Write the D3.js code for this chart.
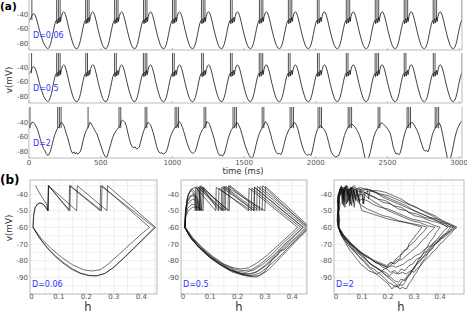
<!DOCTYPE html>
<html>
<head>
<meta charset="utf-8">
<script src="https://cdnjs.cloudflare.com/ajax/libs/d3/7.8.5/d3.min.js"></script>
<style>
  body { margin: 0; background: #fff; }
  svg { display: block; font-family: "DejaVu Sans", sans-serif; }
  .frame { fill: none; stroke: #a8a8a8; stroke-width: 0.8; }
  .grid line { stroke: #e6e6e6; stroke-width: 0.6; }
  .tick { fill: #555; font-size: 7px; }
  .trace { fill: none; stroke: #111; stroke-width: 0.8; stroke-linejoin: round; }
  .spike { stroke: #222; stroke-width: 0.8; }
  .orbit { fill: none; stroke: #111; stroke-width: 0.6; stroke-linejoin: round; }
  .dlab { fill: #3232ff; font-size: 8px; }
  .panel { font-weight: bold; font-size: 12px; fill: #000; }
</style>
</head>
<body>
<svg id="fig" width="467" height="313"></svg>
<script>
// ---------- panel (a) data ----------
var timeTicks = [0, 500, 1000, 1500, 2000, 2500, 3000];
var vTicksA = [-40, -60, -80];
var noiseLabels = ["D=0.06", "D=0.5", "D=2"];

// first 130 ms of the low-noise traces (t ms, v mV)
var leadIn = [[0,-49],[8,-47],[14,-45],[18,-43],[24,-40],[32,-39],[40,-40],[50,-45],[60,-52],
  [70,-60],[80,-67],[90,-73],[100,-79],[110,-83],[120,-86],[130,-87.5]];
// one cycle of the rhythm, ms measured from the burst onset
var cycleShape = [[-60,-87.5],[-52,-86],[-44,-82],[-36,-76],[-28,-68],[-20,-60],[-12,-53],[-5,-49],
  [0,-48],[3,-53],[7,-48],[12,-46],[15,-52],[20,-47],[24,-44],[27,-50],[33,-43],[40,-38],[48,-36.5],
  [56,-37.5],[64,-42],[72,-48],[80,-55],[88,-62],[98,-70],[108,-77],[118,-83],[128,-86.5],[141,-87.8]];
var spikeOffsets = [0, 12, 24];

var burst06 = [193, 395, 597, 799, 1001, 1203, 1405, 1607, 1809, 2011, 2213, 2415, 2617, 2819, 3021];
var nSpk06  = [3, 3, 3, 3, 3, 3, 2, 3, 3, 2, 3, 3, 3, 3, 1];
var first06 = [20];
var burst05 = [193, 396, 597, 798, 1001, 1204, 1405, 1606, 1809, 2012, 2213, 2414, 2617, 2820, 3021];
var nSpk05  = [3, 2, 2, 3, 2, 2, 2, 3, 2, 2, 2, 3, 2, 2, 1];
var first05 = [18];

// D=2 trace (t ms, v mV) and its spike times
var trace2 = [[0,-48],[5,-45],[12,-43],[20,-40],[30,-40],[40,-42],[50,-46],[60,-50],[70,-57],[80,-64],[90,-70],
  [100,-76],[110,-79],[118,-83],[126,-85],[133,-86],[140,-84],[150,-80],[160,-72],[170,-64],[180,-57],[190,-52],[197,-49],
  [205,-47],[212,-46],[220,-41],[228,-40],[236,-42],[244,-45],[252,-50],[260,-56],[268,-60],[276,-66],[284,-72],
  [292,-78],[300,-82],[308,-83],[316,-81],[324,-84],[332,-82],[340,-84],[348,-83],[356,-81],[364,-77],[372,-70],
  [380,-63],[390,-56],[400,-51],[408,-48],
  [416,-45],[424,-40],[432,-41],[440,-44],[448,-47],[456,-50],[464,-53],[474,-56],[484,-62],[494,-68],[504,-74],
  [514,-80],[522,-84],[530,-87],[537,-89],[544,-88],[552,-83],[562,-76],[572,-69],[582,-62],[594,-56],[606,-52],
  [618,-49],[626,-47],
  [636,-44],[644,-38],[652,-37],[660,-38],[670,-40],[680,-46],[690,-55],[700,-63],[710,-70],[720,-74],[730,-75],
  [740,-74],[750,-77],[760,-76],[770,-74],[780,-66],[790,-58],[800,-52],[808,-48],
  [820,-44],[828,-40],[836,-41],[846,-43],[856,-48],[866,-54],[876,-62],[886,-70],[896,-77],[906,-81],[916,-83],
  [926,-82],[936,-84],[946,-83],[956,-81],[966,-76],[976,-68],[986,-60],[996,-55],[1006,-51],[1015,-48],
  [1035,-45],[1042,-40],[1050,-39],[1060,-42],[1070,-47],[1080,-53],[1090,-60],[1100,-67],[1110,-73],[1120,-78],
  [1130,-81],[1140,-83],[1150,-82],[1160,-80],[1170,-74],[1180,-66],[1190,-59],[1200,-54],[1210,-50],[1218,-48],
  [1232,-44],[1240,-39],[1250,-40],[1260,-43],[1270,-49],[1280,-55],[1290,-62],[1300,-70],[1310,-77],[1320,-83],
  [1330,-86],[1340,-85],[1350,-87],[1360,-84],[1370,-78],[1380,-70],[1390,-62],[1400,-56],[1410,-51],[1420,-48],
  [1440,-44],[1448,-40],[1456,-41],[1466,-45],[1476,-50],[1486,-57],[1496,-64],[1506,-71],[1516,-77],[1526,-82],
  [1536,-86],[1546,-89],[1556,-90],[1564,-87],[1574,-80],[1584,-71],[1594,-63],[1604,-57],[1614,-52],[1622,-49],
  [1640,-43],[1648,-39],[1656,-40],[1666,-44],[1676,-50],[1686,-57],[1696,-65],[1706,-72],[1716,-78],[1726,-82],
  [1736,-84],[1746,-83],[1756,-85],[1766,-81],[1776,-73],[1786,-65],[1796,-58],[1806,-53],[1816,-49],
  [1840,-44],[1848,-40],[1856,-41],[1866,-44],[1876,-50],[1886,-58],[1896,-66],[1906,-73],[1916,-79],[1926,-83],
  [1936,-85],[1946,-86],[1956,-84],[1966,-86],[1976,-80],[1986,-70],[1996,-60],[2006,-53],[2013,-49],
  [2034,-45],[2042,-46],[2050,-48],[2060,-50],[2070,-54],[2080,-60],[2090,-68],[2100,-76],[2110,-82],[2120,-85],
  [2130,-87],[2140,-88],[2150,-87],[2160,-86],[2175,-78],[2190,-66],[2200,-58],[2212,-52],[2222,-48],
  [2244,-43],[2252,-42],[2262,-44],[2272,-46],[2288,-51],[2305,-58],[2323,-69],[2335,-82],[2345,-90],[2358,-93],
  [2368,-90],[2380,-82],[2393,-70],[2405,-60],[2418,-53],[2430,-49],
  [2446,-44],[2455,-41],[2465,-41],[2475,-43],[2490,-46],[2505,-50],[2519,-55],[2530,-64],[2540,-74],[2550,-80],
  [2560,-84],[2570,-83],[2580,-85],[2590,-82],[2600,-74],[2610,-64],[2620,-56],[2628,-51],[2634,-48],
  [2655,-42],[2665,-40],[2678,-41],[2690,-45],[2707,-51],[2720,-58],[2732,-66],[2742,-72],[2752,-78],[2762,-80],
  [2772,-79],[2782,-81],[2792,-76],[2802,-67],[2812,-58],[2822,-52],[2830,-49],
  [2852,-42],[2862,-41],[2872,-45],[2880,-52],[2888,-60],[2898,-70],[2908,-80],[2916,-88],[2924,-92],[2932,-93],
  [2940,-90],[2950,-82],[2960,-72],[2970,-62],[2980,-54],[2990,-48],[3000,-44],[3010,-40],[3020,-38]];
var spikes2 = [7, 200, 212, 224, 412, 628, 640, 810, 822, 1019, 1031, 1043, 1221, 1233, 1423, 1435, 1447,
  1626, 1638, 1821, 1833, 1845, 2016, 2028, 2040, 2226, 2238, 2250, 2435, 2447, 2637, 2649, 2661,
  2833, 2845, 2857];

// ---------- panel (b) data: (h, v) orbits, flat lists h,v,h,v,... ----------
var hTicks = [0, 0.1, 0.2, 0.3, 0.4];
var vTicksB = [-40, -50, -60, -70, -80, -90];
var hGrid = [0.05, 0.1, 0.15, 0.2, 0.25, 0.3, 0.35, 0.4, 0.45];
var vGrid = [-35, -40, -45, -50, -55, -60, -65, -70, -75, -80, -85, -90, -95];

var orbit06 = [
  [0.015,-35, 0.035,-41, 0.055,-46, 0.06,-50, 0.062,-35, 0.14,-50, 0.142,-35, 0.255,-50, 0.257,-35, 0.43,-60,
   0.40,-64, 0.36,-70, 0.32,-76, 0.28,-82, 0.25,-85.5, 0.22,-86.2, 0.19,-85.5, 0.15,-82.5, 0.11,-78, 0.07,-72.5,
   0.035,-66.5, 0.006,-60],
  [0.006,-60, 0.008,-53, 0.013,-48.5, 0.02,-46.5, 0.03,-45.5, 0.042,-46, 0.052,-48, 0.06,-50, 0.062,-35,
   0.165,-50, 0.167,-35, 0.275,-50, 0.277,-35, 0.452,-60, 0.42,-65, 0.38,-71.5, 0.34,-78, 0.30,-84, 0.27,-87.5,
   0.24,-89, 0.21,-88.8, 0.18,-87.5, 0.15,-85, 0.12,-81.5, 0.09,-77.5, 0.06,-72.5, 0.03,-66.5, 0.006,-60],
  [0.006,-60, 0.009,-52, 0.014,-48, 0.022,-46, 0.032,-45.3, 0.044,-46.2, 0.054,-48.5, 0.061,-50, 0.063,-35,
   0.137,-50, 0.139,-35, 0.25,-50, 0.252,-35, 0.447,-60, 0.415,-65.5, 0.375,-72, 0.335,-78.5, 0.295,-84.5,
   0.265,-87.8, 0.235,-89.2, 0.205,-88.9, 0.175,-87.5, 0.145,-85, 0.115,-81.5, 0.085,-77.3, 0.055,-72,
   0.028,-66, 0.006,-60]
];

var orbit05 = [
  [0.008,-60, 0.01,-50, 0.016,-43, 0.025,-38.5, 0.035,-37, 0.044,-39, 0.049,-46, 0.05,-50, 0.052,-35.5, 0.14,-50,
   0.142,-36, 0.26,-50, 0.262,-36, 0.44,-60, 0.41,-64.5, 0.37,-70.5, 0.33,-77, 0.29,-82.5, 0.26,-85.5, 0.23,-87,
   0.2,-86.5, 0.17,-84.5, 0.13,-80.5, 0.09,-75.5, 0.05,-69.5, 0.025,-65, 0.008,-60],
  [0.006,-60, 0.009,-51, 0.015,-45, 0.025,-41.5, 0.038,-40, 0.05,-41.5, 0.06,-46, 0.064,-50, 0.066,-35, 0.165,-50,
   0.167,-35, 0.28,-50, 0.282,-35.5, 0.46,-60, 0.43,-65, 0.39,-71.5, 0.35,-78, 0.31,-84, 0.28,-87.5, 0.25,-89,
   0.22,-88.7, 0.18,-86.8, 0.14,-83, 0.1,-78.5, 0.06,-72.5, 0.03,-66.5, 0.006,-60],
  [0.007,-60, 0.01,-53, 0.018,-48.5, 0.03,-46.5, 0.042,-46, 0.05,-48, 0.054,-50, 0.056,-36, 0.15,-50, 0.152,-35.5,
   0.27,-50, 0.272,-35.5, 0.45,-60, 0.42,-65, 0.38,-71, 0.34,-77.5, 0.3,-83.5, 0.27,-86.8, 0.24,-88, 0.21,-87.6,
   0.17,-85.5, 0.13,-81.5, 0.09,-76.5, 0.05,-70.5, 0.024,-65.5, 0.007,-60],
  [0.009,-60, 0.011,-49, 0.018,-41, 0.03,-37, 0.045,-36, 0.058,-38, 0.066,-45, 0.069,-50, 0.071,-36, 0.13,-50,
   0.132,-36.5, 0.24,-50, 0.242,-36.5, 0.42,-60, 0.39,-64.5, 0.35,-70.5, 0.31,-76.5, 0.27,-81.5, 0.24,-84.3,
   0.21,-85, 0.18,-84, 0.15,-82, 0.11,-77.5, 0.07,-72, 0.035,-66, 0.009,-60],
  [0.007,-60, 0.009,-52, 0.016,-46.5, 0.027,-44, 0.04,-43, 0.052,-45, 0.058,-48.5, 0.06,-50, 0.062,-35.5, 0.17,-50,
   0.172,-35, 0.29,-50, 0.292,-35, 0.455,-60, 0.43,-64, 0.4,-69, 0.37,-73.5, 0.355,-74, 0.345,-77, 0.33,-78.5,
   0.3,-86.5, 0.27,-89.8, 0.24,-89.5, 0.21,-88, 0.17,-85.5, 0.13,-81.5, 0.09,-76.5, 0.05,-70.5, 0.025,-65.5, 0.007,-60],
  [0.008,-60, 0.01,-50, 0.015,-43, 0.022,-39.5, 0.032,-38, 0.04,-40, 0.044,-46, 0.045,-50, 0.047,-36, 0.12,-50,
   0.122,-36, 0.25,-50, 0.252,-36.5, 0.43,-60, 0.4,-64.5, 0.36,-70.5, 0.32,-77, 0.28,-82.5, 0.25,-85.5, 0.22,-86,
   0.19,-85.2, 0.15,-82.5, 0.11,-78.5, 0.07,-73, 0.035,-66.5, 0.008,-60],
  [0.006,-60, 0.01,-54, 0.02,-50, 0.035,-48, 0.05,-47.8, 0.065,-49, 0.074,-50, 0.076,-36, 0.155,-50, 0.157,-35.5,
   0.3,-50, 0.302,-35.5, 0.465,-60, 0.44,-64, 0.41,-69, 0.375,-75, 0.34,-81, 0.31,-86, 0.28,-89, 0.25,-89.3,
   0.22,-88.2, 0.18,-86, 0.14,-82.5, 0.1,-78, 0.06,-72, 0.03,-66.5, 0.006,-60],
  [0.007,-60, 0.01,-51, 0.017,-44.5, 0.028,-41.5, 0.04,-41, 0.052,-43, 0.058,-47.5, 0.06,-50, 0.062,-35.5, 0.145,-50,
   0.147,-35.5, 0.26,-50, 0.262,-36, 0.44,-60, 0.41,-65, 0.37,-71.5, 0.33,-78, 0.3,-83, 0.27,-86.5, 0.25,-88,
   0.22,-88, 0.18,-86, 0.14,-82.5, 0.1,-78, 0.06,-72, 0.03,-66.5, 0.007,-60]
];

var orbit2 = [
  [0.01,-60, 0.006,-55, 0.009,-50, 0.006,-45, 0.012,-41, 0.016,-38, 0.022,-36, 0.028,-39, 0.031,-45, 0.034,-37,
   0.04,-36, 0.045,-41, 0.05,-38, 0.058,-36.5, 0.065,-43, 0.07,-37, 0.08,-38, 0.09,-45, 0.094,-38, 0.11,-39,
   0.13,-41, 0.16,-43, 0.19,-44, 0.22,-47, 0.25,-48, 0.28,-51, 0.31,-52, 0.34,-54, 0.37,-55, 0.40,-57, 0.43,-58,
   0.46,-60, 0.445,-62, 0.43,-64, 0.415,-66, 0.40,-67, 0.385,-70, 0.37,-71, 0.355,-74, 0.34,-75, 0.325,-78,
   0.31,-79, 0.295,-82, 0.28,-83, 0.265,-86, 0.25,-85, 0.235,-88, 0.22,-87, 0.205,-89, 0.19,-87, 0.175,-86,
   0.16,-85, 0.145,-83, 0.13,-82, 0.115,-79, 0.1,-77, 0.085,-75, 0.07,-73, 0.055,-70, 0.04,-68, 0.025,-65,
   0.015,-62, 0.01,-60],
  [0.012,-60, 0.008,-53, 0.012,-47, 0.01,-42, 0.018,-39, 0.026,-37, 0.03,-42, 0.034,-48, 0.038,-40, 0.046,-37,
   0.054,-40, 0.06,-47, 0.064,-39, 0.075,-37, 0.085,-41, 0.1,-40, 0.104,-46, 0.108,-39, 0.125,-40, 0.15,-42,
   0.18,-45, 0.21,-46, 0.24,-49, 0.27,-50, 0.30,-53, 0.33,-54, 0.36,-56, 0.39,-57, 0.42,-59, 0.45,-60, 0.43,-63,
   0.415,-65, 0.40,-68, 0.38,-70, 0.365,-73, 0.35,-76, 0.335,-78, 0.32,-81, 0.305,-83, 0.29,-86, 0.28,-88,
   0.265,-91, 0.25,-93, 0.24,-96, 0.225,-95, 0.215,-97, 0.2,-94, 0.185,-92, 0.17,-90, 0.155,-88, 0.14,-86,
   0.125,-84, 0.11,-81, 0.095,-79, 0.08,-76, 0.065,-74, 0.05,-71, 0.035,-68, 0.02,-64, 0.012,-60],
  [0.008,-60, 0.004,-56, 0.007,-50, 0.005,-44, 0.01,-40, 0.015,-37, 0.02,-41, 0.024,-46, 0.028,-38, 0.036,-36,
   0.042,-39, 0.05,-44, 0.055,-37, 0.065,-36, 0.07,-40, 0.08,-38, 0.1,-39, 0.12,-42, 0.14,-44, 0.17,-47, 0.2,-50,
   0.23,-52, 0.26,-54, 0.29,-56, 0.32,-57, 0.35,-59, 0.38,-60, 0.36,-63, 0.345,-66, 0.33,-68, 0.315,-71, 0.3,-73,
   0.285,-75, 0.27,-77, 0.255,-79, 0.24,-80, 0.225,-82, 0.21,-81, 0.195,-83, 0.18,-82, 0.165,-81, 0.15,-80,
   0.135,-79, 0.12,-77, 0.105,-76, 0.09,-74, 0.075,-72, 0.06,-70, 0.045,-68, 0.03,-65, 0.018,-63, 0.008,-60],
  [0.01,-60, 0.007,-54, 0.01,-48, 0.008,-43, 0.014,-39, 0.02,-36, 0.025,-40, 0.03,-36, 0.038,-38, 0.044,-45,
   0.048,-38, 0.056,-36, 0.064,-41, 0.07,-48, 0.074,-40, 0.085,-42, 0.095,-48, 0.1,-50, 0.12,-51, 0.14,-52,
   0.16,-53, 0.18,-54, 0.2,-55, 0.23,-56, 0.26,-57, 0.29,-58, 0.31,-59, 0.33,-60, 0.315,-63, 0.3,-66, 0.29,-68,
   0.28,-70, 0.275,-73, 0.26,-74, 0.25,-76, 0.245,-79, 0.23,-80, 0.22,-82, 0.21,-81, 0.195,-84, 0.18,-83,
   0.165,-82, 0.15,-81, 0.135,-79, 0.12,-78, 0.105,-76, 0.09,-75, 0.075,-72, 0.06,-70, 0.045,-67, 0.03,-65,
   0.02,-62, 0.01,-60],
  [0.009,-60, 0.012,-55, 0.008,-49, 0.013,-44, 0.011,-40, 0.018,-37, 0.024,-39, 0.028,-44, 0.032,-37, 0.04,-35,
   0.047,-38, 0.052,-43, 0.058,-36, 0.066,-38, 0.075,-43, 0.08,-37, 0.09,-37, 0.1,-40, 0.106,-46, 0.112,-39,
   0.13,-38, 0.15,-39, 0.18,-41, 0.21,-43, 0.24,-45, 0.27,-47, 0.3,-50, 0.33,-52, 0.36,-54, 0.39,-56, 0.41,-58,
   0.43,-60, 0.415,-62, 0.4,-65, 0.39,-67, 0.375,-69, 0.36,-72, 0.35,-74, 0.34,-77, 0.325,-79, 0.31,-82, 0.3,-85,
   0.29,-87, 0.275,-90, 0.265,-92, 0.25,-91, 0.24,-93, 0.225,-92, 0.21,-90, 0.195,-89, 0.18,-87, 0.165,-85,
   0.15,-84, 0.135,-82, 0.12,-80, 0.105,-77, 0.09,-75, 0.075,-73, 0.06,-71, 0.045,-68, 0.03,-66, 0.018,-63,
   0.009,-60],
  [0.011,-60, 0.006,-52, 0.01,-46, 0.007,-41, 0.013,-38, 0.02,-35, 0.026,-38, 0.03,-44, 0.035,-36, 0.042,-35,
   0.05,-37, 0.056,-42, 0.06,-36, 0.07,-35, 0.08,-37, 0.09,-36, 0.11,-37, 0.14,-38, 0.17,-40, 0.2,-41, 0.23,-43,
   0.26,-45, 0.29,-47, 0.32,-49, 0.35,-51, 0.38,-53, 0.41,-56, 0.44,-58, 0.465,-60, 0.45,-62, 0.44,-64,
   0.425,-66, 0.415,-68, 0.4,-70, 0.385,-73, 0.37,-75, 0.355,-78, 0.34,-80, 0.325,-83, 0.31,-85, 0.3,-87,
   0.285,-86, 0.27,-88, 0.255,-87, 0.24,-88, 0.225,-86, 0.21,-87, 0.195,-85, 0.18,-84, 0.165,-82, 0.15,-81,
   0.135,-79, 0.12,-78, 0.1,-76, 0.085,-74, 0.07,-72, 0.055,-70, 0.04,-67, 0.025,-64, 0.011,-60],
  [0.01,-60, 0.014,-56, 0.01,-51, 0.015,-47, 0.012,-42, 0.02,-39, 0.025,-42, 0.03,-37, 0.036,-39, 0.04,-46,
   0.045,-39, 0.052,-37, 0.06,-39, 0.066,-45, 0.072,-38, 0.082,-39, 0.09,-44, 0.1,-43, 0.12,-44, 0.14,-46,
   0.17,-48, 0.2,-49, 0.23,-51, 0.26,-53, 0.29,-55, 0.32,-56, 0.35,-57, 0.38,-59, 0.40,-60, 0.385,-63,
   0.375,-66, 0.36,-69, 0.35,-72, 0.34,-74, 0.33,-77, 0.315,-80, 0.305,-83, 0.295,-85, 0.285,-88, 0.275,-90,
   0.265,-93, 0.255,-95, 0.24,-94, 0.23,-96, 0.215,-94, 0.2,-93, 0.19,-91, 0.175,-89, 0.16,-87, 0.145,-85,
   0.13,-84, 0.115,-81, 0.1,-79, 0.085,-77, 0.07,-74, 0.055,-72, 0.04,-69, 0.025,-66, 0.015,-63, 0.01,-60],
  [0.008,-60, 0.005,-53, 0.009,-47, 0.006,-42, 0.012,-39, 0.017,-36, 0.023,-38, 0.027,-43, 0.031,-36, 0.038,-35,
   0.044,-38, 0.049,-44, 0.053,-37, 0.062,-36, 0.07,-39, 0.076,-44, 0.08,-38, 0.09,-37, 0.105,-38, 0.12,-37,
   0.125,-43, 0.13,-38, 0.15,-39, 0.18,-42, 0.21,-44, 0.24,-46, 0.27,-48, 0.3,-50, 0.33,-52, 0.36,-54, 0.39,-55,
   0.42,-57, 0.455,-60, 0.44,-62, 0.425,-64, 0.41,-65, 0.395,-67, 0.38,-69, 0.365,-71, 0.35,-72, 0.335,-74,
   0.32,-76, 0.305,-77, 0.29,-79, 0.275,-80, 0.26,-82, 0.245,-83, 0.23,-84, 0.215,-83, 0.2,-84, 0.185,-83,
   0.17,-82, 0.155,-81, 0.14,-80, 0.125,-78, 0.11,-77, 0.095,-75, 0.08,-73, 0.065,-71, 0.05,-69, 0.035,-66,
   0.02,-63, 0.008,-60],
  [0.01,-60, 0.007,-55, 0.011,-50, 0.008,-45, 0.014,-41, 0.019,-38, 0.025,-36, 0.03,-40, 0.034,-36, 0.042,-37,
   0.05,-40, 0.055,-46, 0.06,-39, 0.07,-36, 0.08,-38, 0.085,-44, 0.09,-38, 0.1,-37, 0.12,-37, 0.14,-38, 0.16,-38,
   0.19,-39, 0.22,-41, 0.25,-43, 0.28,-46, 0.31,-48, 0.34,-51, 0.37,-53, 0.4,-56, 0.42,-58, 0.44,-60, 0.425,-63,
   0.41,-65, 0.395,-68, 0.38,-70, 0.37,-73, 0.355,-75, 0.345,-78, 0.33,-81, 0.32,-84, 0.31,-87, 0.3,-89,
   0.29,-92, 0.28,-94, 0.27,-97, 0.255,-96, 0.245,-97, 0.23,-94, 0.215,-92, 0.2,-90, 0.185,-88, 0.17,-86,
   0.155,-84, 0.14,-83, 0.125,-81, 0.11,-79, 0.095,-77, 0.08,-75, 0.065,-73, 0.05,-70, 0.035,-67, 0.02,-64,
   0.01,-60],
  [0.009,-60, 0.006,-54, 0.01,-49, 0.007,-44, 0.013,-40, 0.018,-37, 0.024,-41, 0.028,-47, 0.032,-39, 0.04,-37,
   0.048,-41, 0.052,-47, 0.056,-40, 0.065,-38, 0.075,-42, 0.085,-45, 0.1,-47, 0.12,-49, 0.15,-51, 0.18,-53,
   0.21,-54, 0.24,-56, 0.27,-57, 0.3,-58, 0.33,-59, 0.35,-60, 0.335,-63, 0.32,-65, 0.305,-68, 0.29,-70,
   0.275,-72, 0.26,-75, 0.245,-77, 0.23,-79, 0.215,-82, 0.2,-84, 0.185,-85, 0.17,-87, 0.155,-88, 0.14,-87,
   0.125,-86, 0.11,-84, 0.095,-82, 0.08,-79, 0.065,-76, 0.05,-73, 0.035,-69, 0.02,-65, 0.009,-60]
];

// ---------- build ----------
var svg = d3.select("#fig");

function pairs(flat) {
  var out = [];
  for (var i = 0; i < flat.length; i += 2) out.push([flat[i], flat[i + 1]]);
  return out;
}
function cycleTrace(bursts) {
  var pts = leadIn.slice();
  bursts.forEach(function(b) {
    cycleShape.forEach(function(p) { pts.push([b + p[0], p[1]]); });
  });
  return pts;
}
function spikeTimes(first, bursts, counts) {
  var out = first.slice();
  bursts.forEach(function(b, i) {
    spikeOffsets.slice(0, counts[i]).forEach(function(o) { out.push(b + o); });
  });
  return out;
}

var tracesA = [
  { pts: cycleTrace(burst06), spikes: spikeTimes(first06, burst06, nSpk06) },
  { pts: cycleTrace(burst05), spikes: spikeTimes(first05, burst05, nSpk05) },
  { pts: trace2, spikes: spikes2 }
];
var rowsA = [{ top: 0, bottom: 50 }, { top: 53, bottom: 103 }, { top: 107, bottom: 158 }];

var x = d3.scaleLinear().domain([0, 3020]).range([29, 462]);

rowsA.forEach(function(row, i) {
  var y = d3.scaleLinear().domain([-89.5, -20]).range([row.bottom, row.bottom - 50]);
  var g = svg.append("g");
  g.append("clipPath").attr("id", "ca" + i)
    .append("rect").attr("x", 29).attr("y", row.top).attr("width", 433).attr("height", row.bottom - row.top);

  var plot = g.append("g").attr("clip-path", "url(#ca" + i + ")");
  plot.append("path").attr("class", "trace")
    .attr("d", d3.line().x(function(d) { return x(d[0]); }).y(function(d) { return y(d[1]); })(tracesA[i].pts));
  plot.selectAll("line.spike").data(tracesA[i].spikes).enter().append("line")
    .attr("class", "spike")
    .attr("x1", function(d) { return x(d); }).attr("x2", function(d) { return x(d); })
    .attr("y1", y(-48)).attr("y2", y(30));

  // box: left, bottom, right
  g.append("path").attr("class", "frame")
    .attr("d", "M" + x(0) + "," + row.top + "V" + row.bottom + "H" + x(3020) + "V" + row.top);
  g.selectAll("line.xt").data(timeTicks).enter().append("line")
    .attr("stroke", "#a8a8a8").attr("stroke-width", 0.8)
    .attr("x1", function(d) { return x(d); }).attr("x2", function(d) { return x(d); })
    .attr("y1", row.bottom).attr("y2", row.bottom - 2);
  g.selectAll("text.yt").data(vTicksA).enter().append("text")
    .attr("class", "tick").attr("text-anchor", "end")
    .attr("x", 28.3).attr("y", function(d) { return y(d) + 2.5; })
    .text(function(d) { return d; });
  g.append("text").attr("class", "dlab").attr("x", 33).attr("y", y(-67) + 4).text(noiseLabels[i]);

  if (i === 2) {
    g.selectAll("text.xt").data(timeTicks).enter().append("text")
      .attr("class", "tick").attr("text-anchor", "middle")
      .attr("x", function(d) { return x(d); }).attr("y", row.bottom + 7)
      .text(function(d) { return d; });
  }
});

svg.append("text").attr("x", 243).attr("y", 174).attr("text-anchor", "middle")
  .attr("font-size", 8.5).attr("fill", "#333").text("time (ms)");
svg.append("text").attr("transform", "translate(12,80) rotate(-90)").attr("text-anchor", "middle")
  .attr("font-size", 8.8).attr("fill", "#333").text("v(mV)");
svg.append("text").attr("class", "panel").attr("x", 0).attr("y", 10.3)
  .style("font-size", "10.5px").text("(a)");

// ---------- panel (b) ----------
var subsB = [
  { left: 30, right: 157, dom: [-0.005, 0.457], orbits: orbit06, hx: 88 },
  { left: 181, right: 307, dom: [-0.007, 0.454], orbits: orbit05, hx: 239 },
  { left: 334, right: 464, dom: [-0.008, 0.492], orbits: orbit2, hx: 401 }
];
var yb = d3.scaleLinear().domain([-100, -31.6]).range([294, 180]);

subsB.forEach(function(s, i) {
  var xb = d3.scaleLinear().domain(s.dom).range([s.left, s.right]);
  var g = svg.append("g");
  var grid = g.append("g").attr("class", "grid");
  grid.selectAll("line.gv").data(hGrid).enter().append("line")
    .attr("x1", function(d) { return xb(d); }).attr("x2", function(d) { return xb(d); })
    .attr("y1", 180).attr("y2", 294);
  grid.selectAll("line.gh").data(vGrid).enter().append("line")
    .attr("x1", s.left).attr("x2", s.right)
    .attr("y1", function(d) { return yb(d); }).attr("y2", function(d) { return yb(d); });

  g.append("clipPath").attr("id", "cb" + i)
    .append("rect").attr("x", s.left).attr("y", 180).attr("width", s.right - s.left).attr("height", 114);
  var plot = g.append("g").attr("clip-path", "url(#cb" + i + ")");
  var line = d3.line().x(function(d) { return xb(d[0]); }).y(function(d) { return yb(d[1]); });
  plot.selectAll("path").data(s.orbits).enter().append("path")
    .attr("class", "orbit")
    .attr("stroke", function(d, j) { return (i === 0 && j === 0) ? "#888" : "#111"; })
    .attr("stroke-width", i === 0 ? 1.0 : 0.6)
    .attr("d", function(d) { return line(pairs(d)); });

  g.append("rect").attr("class", "frame")
    .attr("x", s.left).attr("y", 180).attr("width", s.right - s.left).attr("height", 114);

  g.selectAll("text.xt").data(hTicks).enter().append("text")
    .attr("class", "tick").attr("text-anchor", "middle")
    .attr("x", function(d) { return xb(d); }).attr("y", 299)
    .text(function(d) { return d; });
  g.selectAll("text.yt").data(vTicksB).enter().append("text")
    .attr("class", "tick").attr("text-anchor", "end")
    .attr("x", s.left - 2).attr("y", function(d) { return yb(d) + 2.5; })
    .text(function(d) { return d; });
  g.append("text").attr("x", s.hx).attr("y", 310.5).attr("text-anchor", "middle")
    .attr("font-size", 11.5).attr("fill", "#333").text("h");
  g.append("text").attr("class", "dlab").attr("x", s.left + 2).attr("y", 287).text(noiseLabels[i]);
});

svg.append("text").attr("transform", "translate(12,228) rotate(-90)").attr("text-anchor", "middle")
  .attr("font-size", 8.8).attr("fill", "#333").text("v(mV)");
svg.append("text").attr("class", "panel").attr("x", 0).attr("y", 184).text("(b)");
</script>
</body>
</html>
